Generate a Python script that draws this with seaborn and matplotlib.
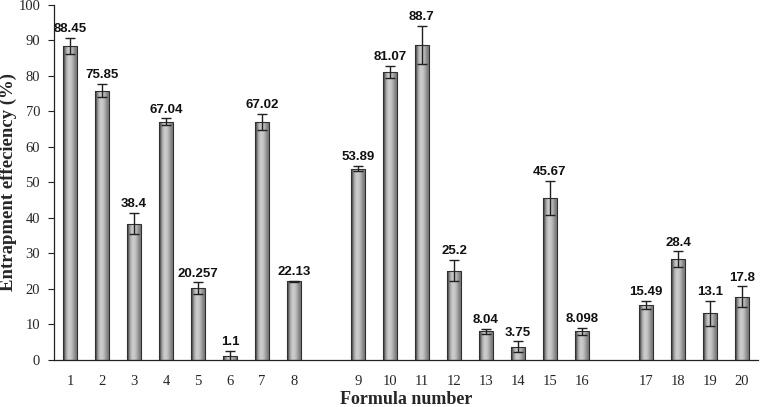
import numpy as np
import pandas as pd
import matplotlib
matplotlib.use('Agg')
import matplotlib.pyplot as plt
import seaborn as sns

# 数据
formulas = ['1', '2', '3', '4', '5', '6', '7', '8', '', '9', '10', '11', '12', '13', '14', '15', '16', ' ', '17', '18', '19', '20']
values = [88.45, 75.85, 38.4, 67.04, 20.257, 1.1, 67.02, 22.13, np.nan,
          53.89, 81.07, 88.7, 25.2, 8.04, 3.75, 45.67, 8.098, np.nan,
          15.49, 28.4, 13.1, 17.8]
errors = [2.3, 1.9, 3.0, 1.0, 1.6, 1.5, 2.3, 0.2, np.nan,
          0.7, 1.7, 5.4, 3.0, 0.8, 1.5, 4.7, 1.0, np.nan,
          1.1, 2.2, 3.6, 2.9]
labels = ['88.45', '75.85', '38.4', '67.04', '20.257', '1.1', '67.02', '22.13', '',
          '53.89', '81.07', '88.7', '25.2', '8.04', '3.75', '45.67', '8.098', '',
          '15.49', '28.4', '13.1', '17.8']

df = pd.DataFrame({'formula': formulas, 'value': values, 'err': errors, 'label': labels})

sns.set_style('white')
serif = ['Liberation Serif', 'DejaVu Serif']
sans = ['Liberation Sans', 'DejaVu Sans']

fig = plt.figure(figsize=(7.61, 4.07), dpi=100)
ax = fig.add_axes([0.071, 0.1155, 0.925, 0.8725])

sns.barplot(data=df, x='formula', y='value', order=formulas, color='#a0a0a0',
            width=0.42, edgecolor='#303030', linewidth=0.8, errorbar=None, ax=ax)

# 圆柱形渐变填充
grad = np.array([[0.22, 0.42, 0.60, 0.72, 0.78, 0.80, 0.78, 0.74, 0.68, 0.60, 0.53, 0.48]])
for p in ax.patches:
    x0, y0 = p.get_x(), p.get_y()
    w, h = p.get_width(), p.get_height()
    if np.isnan(h) or h == 0:
        continue
    im = ax.imshow(grad, cmap='gray', vmin=0, vmax=1, aspect='auto',
                   extent=(x0, x0 + w, y0, y0 + h), zorder=p.get_zorder() + 0.1,
                   interpolation='bicubic')
    im.set_clip_path(p)
    p.set_zorder(p.get_zorder() + 0.2)
    p.set_facecolor('none')

xpos = np.arange(len(formulas))
ax.errorbar(xpos, df['value'], yerr=df['err'], fmt='none', ecolor='#202020',
            elinewidth=1.0, capsize=3.5, capthick=1.0, zorder=5)

for x, v, e, lab in zip(xpos, df['value'], df['err'], df['label']):
    if lab:
        ax.annotate(lab, (x, v + e), xytext=(0, 2), textcoords='offset points',
                    ha='center', va='bottom', fontsize=9.5, fontweight='bold',
                    family=sans, color='#111111')

ax.set_xlim(-0.5, len(formulas) - 0.5)
ax.set_ylim(0, 100)
ax.set_yticks(np.arange(0, 101, 10))
ax.set_yticklabels([str(t) for t in range(0, 101, 10)], family=serif, fontsize=10.5)
ax.set_xticks(xpos)
ax.set_xticklabels(formulas, family=serif, fontsize=10.5)
ax.set_xticks(np.arange(-0.5, len(formulas), 1), minor=True)
ax.tick_params(axis='x', which='major', length=0, pad=11)
ax.tick_params(axis='x', which='minor', length=4, width=0.8, direction='out', color='#222222')
ax.tick_params(axis='y', length=4, width=0.8, direction='out', color='#222222', pad=6, left=True)

for side in ['top', 'right']:
    ax.spines[side].set_visible(False)
for side in ['left', 'bottom']:
    ax.spines[side].set_color('#222222')
    ax.spines[side].set_linewidth(0.9)

ax.set_xlabel('Formula number', family=serif, fontweight='bold', fontsize=13, labelpad=2)
ax.set_ylabel('Entrapment effeciency (%)', family=serif, fontweight='bold', fontsize=13.5)
ax.yaxis.set_label_coords(-0.052, 0.5)

fig.savefig('out.png', dpi=100)
